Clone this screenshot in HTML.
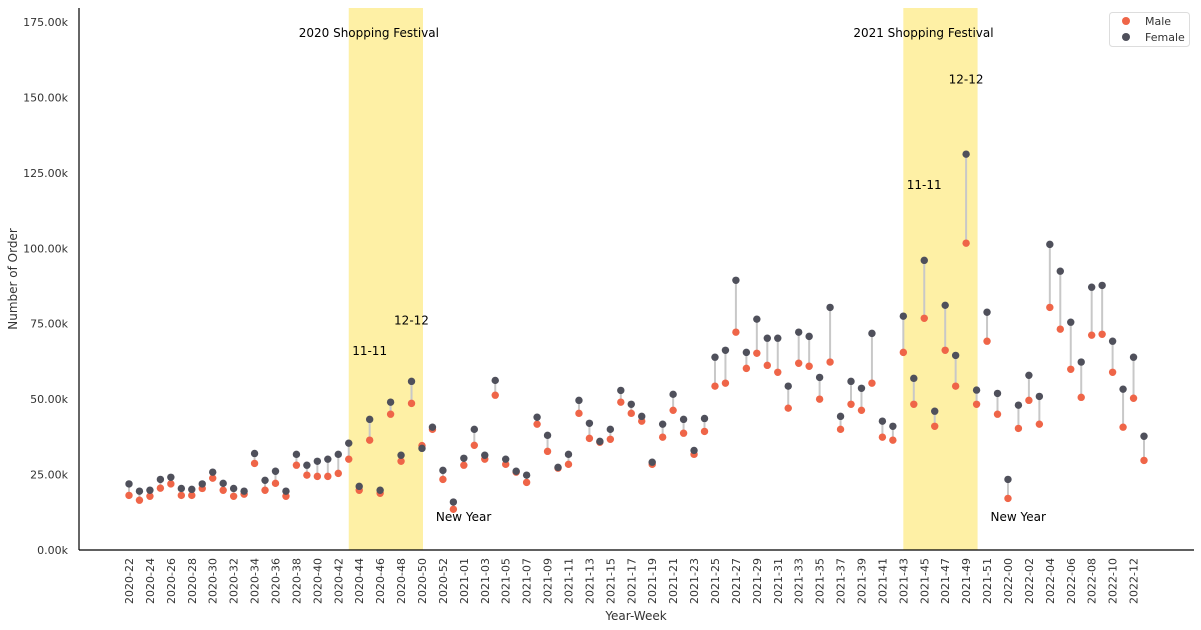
<!DOCTYPE html>
<html><head><meta charset="utf-8"><style>
body{margin:0;background:#fff;}
svg{display:block;font-family:"DejaVu Sans","Liberation Sans",sans-serif;}
</style></head><body>
<svg id="chart" width="1201" height="630" xmlns="http://www.w3.org/2000/svg">
<g id="bands"></g><g id="grid"></g><g id="marks"></g><g id="axes"></g><g id="ann"></g>
</svg>
<script>
const female = [21.9,19.5,19.8,23.4,24.1,20.4,20.1,21.9,25.8,22.1,20.4,19.5,32.0,23.1,26.1,19.5,31.7,28.1,29.4,30.1,31.7,35.4,21.1,43.3,19.8,49.0,31.4,55.9,33.7,40.7,26.4,15.9,30.4,40.0,31.4,56.2,30.1,26.1,24.8,44.0,38.0,27.4,31.7,49.6,42.0,36.0,40.0,52.9,48.3,44.3,29.1,41.7,51.6,43.3,33.0,43.6,63.9,66.2,89.4,65.5,76.5,70.2,70.2,54.3,72.2,70.8,57.2,80.4,44.3,55.9,53.6,71.8,42.7,41.0,77.5,56.9,96.0,46.0,81.1,64.5,131.2,53.0,78.8,51.9,23.4,48.0,57.9,50.9,101.3,92.4,75.5,62.3,87.1,87.7,69.2,53.3,63.9,37.7];
const male = [18.1,16.5,17.8,20.5,21.9,18.1,18.1,20.4,23.8,19.8,17.8,18.5,28.7,19.8,22.1,17.8,28.1,24.8,24.4,24.4,25.4,30.1,19.8,36.4,18.8,45.0,29.4,48.6,34.6,40.0,23.4,13.5,28.1,34.7,30.1,51.3,28.4,25.8,22.4,41.7,32.7,27.1,28.4,45.3,37.0,35.7,36.7,49.0,45.3,42.7,28.4,37.4,46.3,38.7,31.7,39.3,54.3,55.3,72.2,60.2,65.2,61.2,58.9,47.0,61.9,60.9,50.0,62.3,40.0,48.3,46.3,55.3,37.4,36.4,65.5,48.3,76.8,41.0,66.2,54.3,101.7,48.3,69.2,45.0,17.1,40.3,49.6,41.7,80.4,73.2,59.9,50.6,71.2,71.5,58.9,40.7,50.3,29.7];
const yTicks = [0,25,50,75,100,125,150,175];
const festivals = [{label:"2020 Shopping Festival",start:"2020-43",end:"2020-50"},{label:"2021 Shopping Festival",start:"2021-43",end:"2021-50"}];
const events = [
 {t:"11-11",wk:"2020-44",val:65},{t:"12-12",wk:"2020-48",val:75},{t:"New Year",wk:"2020-52",val:10},
 {t:"11-11",wk:"2021-44",val:120},{t:"12-12",wk:"2021-48",val:155},{t:"New Year",wk:"2021-52",val:10}];
const weeks=[];
for(let w=22;w<=52;w++)weeks.push("2020-"+String(w).padStart(2,"0"));
for(let w=0;w<=52;w++)weeks.push("2021-"+String(w).padStart(2,"0"));
for(let w=0;w<=13;w++)weeks.push("2022-"+String(w).padStart(2,"0"));

const NS="http://www.w3.org/2000/svg";
const L=79,R=1194,T=8,B=550,x0=129,dx=(1144-129)/97,ppk=528/175;
const X=i=>x0+i*dx, Y=v=>B-v*ppk;
function mk(tag,attrs,parent,txt){const e=document.createElementNS(NS,tag);for(const k in attrs)e.setAttribute(k,attrs[k]);if(txt!==undefined)e.textContent=txt;document.getElementById(parent).appendChild(e);return e;}

festivals.forEach(f=>{const a=weeks.indexOf(f.start),b=weeks.indexOf(f.end);
 const r=mk("rect",{x:X(a),y:T,width:X(b)-X(a)+1,height:B-T,fill:"#fef0a5"},"bands");
 
 
 const t=mk("text",{x:X(a)-50,y:37,"font-size":"12",fill:"#000"},"ann",f.label);
 
 
});
events.forEach(e=>{const i=weeks.indexOf(e.wk);
 const t=mk("text",{x:X(i)-7,y:Y(e.val)+1,"font-size":"12",fill:"#000"},"ann",e.t);
 
 
});
weeks.forEach((w,i)=>{
 const ln=mk("line",{x1:X(i),x2:X(i),y1:Y(female[i]),y2:Y(male[i]),stroke:"#c8c8c8","stroke-width":2},"marks");
 
 
});
weeks.forEach((w,i)=>{
 const m=mk("circle",{cx:X(i),cy:Y(male[i]),r:3.7,fill:"#ef6548"},"marks");
 
 
 const f=mk("circle",{cx:X(i),cy:Y(female[i]),r:3.7,fill:"#4f505b"},"marks");
 
 
});
weeks.forEach((w,i)=>{ if(i%2) return;
 const t=mk("text",{transform:`translate(${X(i)+4},558) rotate(-90)`,"text-anchor":"end","font-size":"11",fill:"#333"},"axes",w);
 
 
});
yTicks.forEach(v=>{
 const t=mk("text",{x:68,y:Y(v)+4,"text-anchor":"end","font-size":"11",fill:"#333"},"axes",v.toFixed(2)+"k");
 
 
});
let s=mk("line",{x1:L,x2:L,y1:T,y2:B,stroke:"#000","stroke-width":1.2},"axes");


s=mk("line",{x1:L,x2:R,y1:B,y2:B,stroke:"#000","stroke-width":1.2},"axes");


s=mk("text",{x:636,y:620,"text-anchor":"middle","font-size":"12",fill:"#333"},"axes","Year-Week");


s=mk("text",{transform:"translate(17,279) rotate(-90)","text-anchor":"middle","font-size":"12",fill:"#333"},"axes","Number of Order");


s=mk("rect",{x:1109.5,y:12.5,width:80,height:34,rx:3,fill:"#fff",stroke:"#ddd"},"ann");


[["Male","#ef6548",21],["Female","#4f505b",37]].forEach(([n,c,y])=>{
 const d=mk("circle",{cx:1126,cy:y,r:4,fill:c},"ann");
 
 
 const t=mk("text",{x:1145,y:y+4,"font-size":"11",fill:"#333"},"ann",n);
 
 
});
</script>
</body></html>
